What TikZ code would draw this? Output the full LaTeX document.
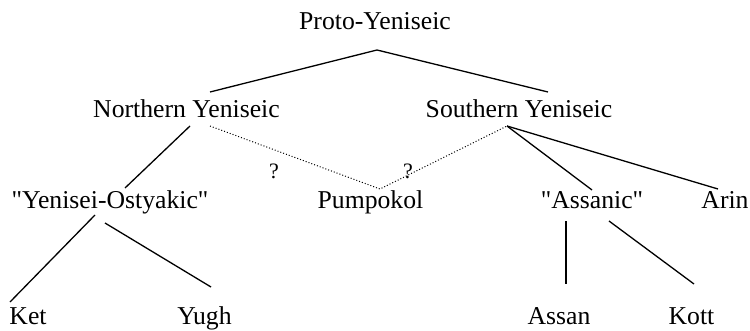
\documentclass[tikz,border=0pt]{standalone}
\usepackage{fontspec}
\setmainfont{Liberation Serif}[Ligatures=TeXOff]
\begin{document}
\begin{tikzpicture}[x=1pt,y=1pt,
  lbl/.style={anchor=base,inner sep=0pt,font=\fontsize{25.7}{30}\selectfont},
  qlbl/.style={anchor=base,inner sep=0pt,font=\fontsize{22}{26}\selectfont},
  edge/.style={line width=1.3pt},
  dotedge/.style={line width=1pt,dotted}]
\useasboundingbox (0,0) rectangle (750,330);
\node[lbl] (proto) at (375,300) {Proto-Yeniseic};
\node[lbl] (ny) at (186.5,212) {Northern Yeniseic};
\node[lbl] (sy) at (519,212) {Southern Yeniseic};
\node[lbl] (yo) at (110,122) {"Yenisei-Ostyakic"};
\node[lbl] (pump) at (370.5,122) {Pumpokol};
\node[lbl] (assanic) at (592,122) {"Assanic"};
\node[lbl] (arin) at (725,122) {Arin};
\node[lbl] (ket) at (28,6) {Ket};
\node[lbl] (yugh) at (204.5,6) {Yugh};
\node[lbl] (assan) at (559,6) {Assan};
\node[lbl] (kott) at (691.5,6) {Kott};
\node[qlbl] (q1) at (274,152) {?};
\node[qlbl] (q2) at (408,152) {?};
\draw[edge] ([xshift=23.5pt,yshift=26pt]ny.base) -- ([xshift=2pt,yshift=-20pt]proto.base) -- ([xshift=29pt,yshift=26pt]sy.base);
\draw[edge] ([xshift=3.5pt,yshift=-8pt]ny.base) -- ([xshift=15pt,yshift=20pt]yo.base);
\draw[dotedge] ([xshift=23.5pt,yshift=-8pt]ny.base) -- ([xshift=9.5pt,yshift=19pt]pump.base) -- ([xshift=-12pt,yshift=-8pt]sy.base);
\draw[edge] ([xshift=-12pt,yshift=-8pt]sy.base) -- ([yshift=18pt]assanic.base);
\draw[edge] ([xshift=-12pt,yshift=-8pt]sy.base) -- ([xshift=-7pt,yshift=19pt]arin.base);
\draw[edge] ([xshift=-15pt,yshift=-7pt]yo.base) -- ([xshift=-18pt,yshift=22pt]ket.base);
\draw[edge] ([xshift=-5pt,yshift=-15pt]yo.base) -- ([xshift=6.5pt,yshift=37pt]yugh.base);
\draw[edge] ([xshift=-26pt,yshift=-13pt]assanic.base) -- ([xshift=7pt,yshift=40pt]assan.base);
\draw[edge] ([xshift=17pt,yshift=-13pt]assanic.base) -- ([xshift=2.5pt,yshift=40pt]kott.base);
\end{tikzpicture}
\end{document}
